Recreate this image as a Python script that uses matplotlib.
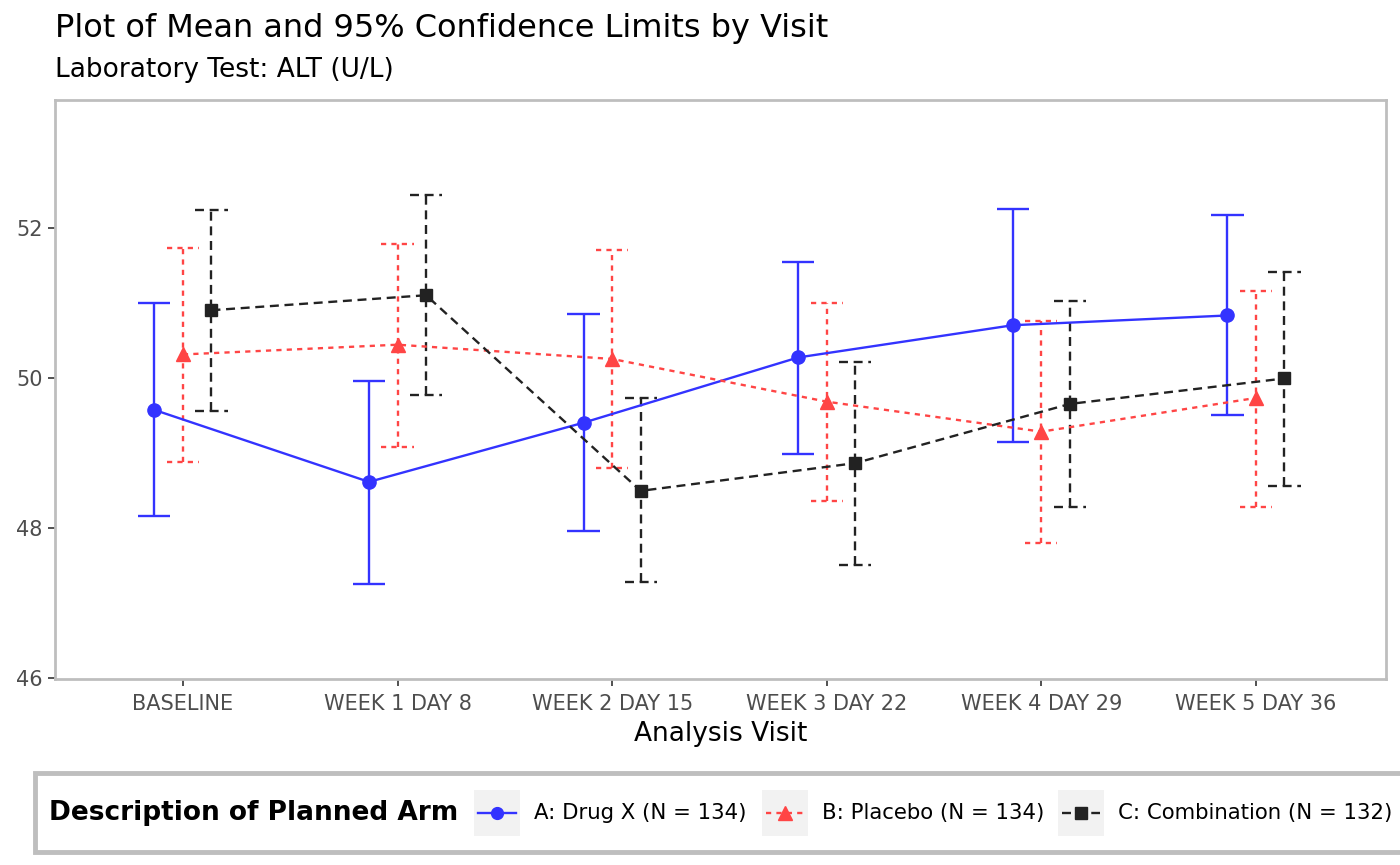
import matplotlib
matplotlib.use("Agg")
from matplotlib import pyplot as plt
from matplotlib.patches import Rectangle
from matplotlib.lines import Line2D
import numpy as np

visits = ["BASELINE", "WEEK 1 DAY 8", "WEEK 2 DAY 15", "WEEK 3 DAY 22",
          "WEEK 4 DAY 29", "WEEK 5 DAY 36"]
arms = ["A: Drug X (N = 134)", "B: Placebo (N = 134)", "C: Combination (N = 132)"]

mean_a = [49.57, 48.61, 49.40, 50.27, 50.70, 50.83]
lcl_a = [48.15, 47.25, 47.96, 48.98, 49.14, 49.50]
ucl_a = [50.99, 49.96, 50.85, 51.54, 52.25, 52.17]

mean_b = [50.31, 50.44, 50.25, 49.68, 49.28, 49.73]
lcl_b = [48.88, 49.08, 48.79, 48.36, 47.79, 48.27]
ucl_b = [51.73, 51.79, 51.70, 50.99, 50.75, 51.16]

mean_c = [50.90, 51.10, 48.49, 48.86, 49.65, 49.99]
lcl_c = [49.56, 49.77, 47.27, 47.50, 48.27, 48.55]
ucl_c = [52.24, 52.44, 49.73, 50.21, 51.02, 51.41]

colors = ["#3333FF", "#FF4545", "#222222"]
markers = ["o", "^", "s"]
msizes = [9.5, 10.5, 9]
dashes = [None, (2.2, 2.2), (3.8, 2.4)]

means = [mean_a, mean_b, mean_c]
lcls = [lcl_a, lcl_b, lcl_c]
ucls = [ucl_a, ucl_b, ucl_c]

fig = plt.figure(figsize=(14, 8.65), dpi=100)
ax = fig.add_axes([0.0393, 0.215, 0.9507, 0.669])

x = np.arange(1, len(visits) + 1)
offsets = [-0.133, 0.0, 0.133]
lw = 1.7

for i in range(3):
    xi = x + offsets[i]
    ls = "-" if dashes[i] is None else (0, dashes[i])
    ax.vlines(xi, lcls[i], ucls[i], colors=colors[i], linewidth=lw, linestyles=[ls])
    ax.hlines(lcls[i], xi - 0.075, xi + 0.075, colors=colors[i], linewidth=lw, linestyles=[ls])
    ax.hlines(ucls[i], xi - 0.075, xi + 0.075, colors=colors[i], linewidth=lw, linestyles=[ls])
    line, = ax.plot(xi, means[i], color=colors[i], linewidth=lw, marker=markers[i],
                    markersize=msizes[i], zorder=3)
    if dashes[i] is not None:
        line.set_dashes(dashes[i])

ax.set_xlim(0.404, 6.606)
ax.set_ylim(45.98, 53.7)
ax.set_xticks(x)
ax.set_xticklabels(visits)
ax.set_yticks([46, 48, 50, 52])
ax.tick_params(axis="both", colors="#333333", labelcolor="#4D4D4D", labelsize=15,
               length=5, width=1.2, pad=4)
ax.tick_params(axis="x", pad=6)
for s in ax.spines.values():
    s.set_color("#BEBEBE")
    s.set_linewidth(2)
ax.set_xlabel("Analysis Visit", fontsize=19, labelpad=5)

fig.text(55 / 1400, 1 - 28 / 865, "Plot of Mean and 95% Confidence Limits by Visit",
         fontsize=23, va="center", ha="left")
fig.text(55 / 1400, 1 - 70 / 865, "Laboratory Test: ALT (U/L)",
         fontsize=19, va="center", ha="left")

# legend drawn in pixel coordinates
def px(xp, yp):
    return xp / 1400, 1 - yp / 865

box = Rectangle(px(35, 852), 1400 / 1400, 79 / 865, transform=fig.transFigure,
                facecolor="white", edgecolor="#BEBEBE", linewidth=3.5, clip_on=False)
fig.add_artist(box)
fig.text(*px(49, 813), "Description of Planned Arm", fontsize=19, fontweight="bold",
         va="center", ha="left")
key_left = [474, 762, 1058]
for i in range(3):
    kx = key_left[i]
    fig.add_artist(Rectangle(px(kx, 836), 46 / 1400, 46 / 865, transform=fig.transFigure,
                             facecolor="#F2F2F2", edgecolor="none"))
    ln = Line2D([px(kx + 4, 0)[0], px(kx + 42, 0)[0]], [px(0, 813)[1]] * 2,
                transform=fig.transFigure, color=colors[i], linewidth=lw)
    if dashes[i] is not None:
        ln.set_dashes(dashes[i])
    fig.add_artist(ln)
    fig.add_artist(Line2D([px(kx + 23, 0)[0]], [px(0, 813)[1]], transform=fig.transFigure,
                          color=colors[i], marker=markers[i], markersize=msizes[i] - 1,
                          linestyle="none"))
    fig.text(*px(kx + 60, 813), arms[i], fontsize=15.3, va="center", ha="left")

fig.savefig("out.png", dpi=100)
